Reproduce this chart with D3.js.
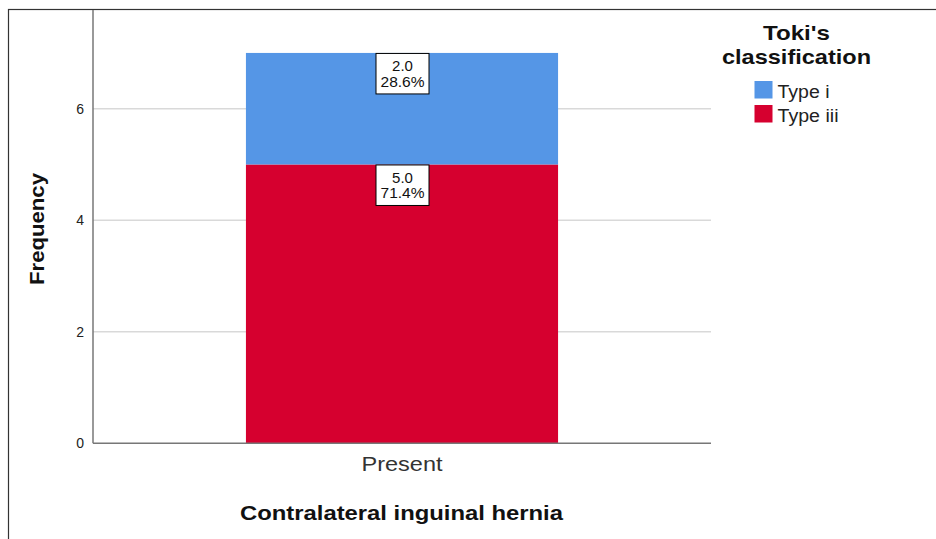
<!DOCTYPE html>
<html><head><meta charset="utf-8">
<script src="https://cdn.jsdelivr.net/npm/d3@7"></script>
<style>body{margin:0;background:#fff}svg{display:block}text{font-family:"Liberation Sans",Arial,sans-serif}</style>
</head><body>
<svg id="c" width="936" height="539"></svg>
<script>
const categories = ["Present"];
const seriesNames = ["Type iii", "Type i"];
const typeIII = [5];
const typeI = [2];
const pctIII = ["71.4%"];
const pctI = ["28.6%"];
const yTicks = [0, 2, 4, 6];
const legendNames = ["Type i", "Type iii"];
const colors = {"Type i": "#5596e6", "Type iii": "#d6002f"};

const svg = d3.select("#c");
// frame
svg.append("rect").attr("x", 8.5).attr("y", 9.5).attr("width", 960).attr("height", 600)
  .attr("fill", "none").attr("stroke", "#333").attr("stroke-width", 1.2);

const pLeft = 93, pRight = 711, pTop = 10, pBottom = 443.3;
const y = d3.scaleLinear().domain([0, 7.77]).range([pBottom, pTop]);
const x = d3.scaleBand().domain(categories).range([pLeft, pRight]).paddingInner(0).paddingOuter(0.49);

// gridlines
svg.append("g").selectAll("line").data(yTicks.filter(d => d > 0)).join("line")
  .attr("x1", pLeft).attr("x2", pRight).attr("y1", d => y(d)).attr("y2", d => y(d))
  .attr("stroke", "#d9d9d9").attr("stroke-width", 1.5);

// stacked data
const rows = categories.map((c, i) => ({cat: c, "Type iii": typeIII[i], "Type i": typeI[i]}));
const stack = d3.stack().keys(seriesNames)(rows);
svg.append("g").selectAll("g").data(stack).join("g").attr("fill", d => colors[d.key])
  .selectAll("rect").data(d => d).join("rect")
  .attr("x", d => x(d.data.cat)).attr("width", x.bandwidth())
  .attr("y", d => y(d[1])).attr("height", d => y(d[0]) - y(d[1]));

// axes
const yAxis = svg.append("g").attr("transform", `translate(${pLeft},0)`)
  .call(d3.axisLeft(y).tickValues(yTicks).tickSize(0).tickPadding(9).tickFormat(d3.format("d")));
yAxis.select(".domain").remove();
yAxis.selectAll("text").style("font-size", "14px").attr("fill", "#222");
svg.append("line").attr("x1", pLeft).attr("x2", pLeft).attr("y1", pTop).attr("y2", pBottom)
  .attr("stroke", "#777").attr("stroke-width", 1.5);
const xAxis = svg.append("g").attr("transform", `translate(0,${pBottom})`)
  .call(d3.axisBottom(x).tickSize(0).tickPadding(13));
xAxis.select(".domain").remove();
xAxis.selectAll("text").style("font-size", "21px").attr("fill", "#333")
  .attr("textLength", 81).attr("lengthAdjust", "spacingAndGlyphs");
svg.append("line").attr("x1", pLeft).attr("x2", pRight).attr("y1", pBottom).attr("y2", pBottom)
  .attr("stroke", "#777").attr("stroke-width", 1.5);

// labels
const labelData = [];
stack.forEach(s => s.forEach((d, i) => {
  const v = d[1] - d[0];
  labelData.push({cat: d.data.cat, top: d[1], v: v, p: s.key === "Type i" ? pctI[i] : pctIII[i]});
}));
const lg = svg.append("g").selectAll("g").data(labelData).join("g")
  .attr("transform", d => `translate(${x(d.cat) + x.bandwidth() / 2},${y(d.top)})`);
lg.append("rect").attr("x", -26).attr("y", 0.5).attr("width", 53).attr("height", 40.5)
  .attr("fill", "#fff").attr("stroke", "#000").attr("stroke-width", 1);
lg.append("text").attr("text-anchor", "middle").attr("x", 0.5).attr("y", 18.5).attr("font-size", 15).attr("fill", "#111")
  .text(d => d.v.toFixed(1));
lg.append("text").attr("text-anchor", "middle").attr("x", 0.5).attr("y", 34).attr("font-size", 15).attr("fill", "#111")
  .attr("textLength", 44).attr("lengthAdjust", "spacingAndGlyphs")
  .text(d => d.p);

// axis titles
svg.append("text").attr("transform", "translate(44,229) rotate(-90)").attr("text-anchor", "middle")
  .attr("font-size", 20).attr("font-weight", "bold").attr("fill", "#111")
  .attr("textLength", 112).attr("lengthAdjust", "spacingAndGlyphs").text("Frequency");
svg.append("text").attr("x", 401.5).attr("y", 520).attr("text-anchor", "middle")
  .attr("font-size", 20).attr("font-weight", "bold").attr("fill", "#111")
  .attr("textLength", 323).attr("lengthAdjust", "spacingAndGlyphs").text("Contralateral inguinal hernia");

// legend
svg.append("text").attr("x", 796.5).attr("y", 40).attr("text-anchor", "middle").attr("font-size", 21)
  .attr("font-weight", "bold").attr("fill", "#111")
  .attr("textLength", 67).attr("lengthAdjust", "spacingAndGlyphs").text("Toki's");
svg.append("text").attr("x", 796.5).attr("y", 63.5).attr("text-anchor", "middle").attr("font-size", 21)
  .attr("font-weight", "bold").attr("fill", "#111")
  .attr("textLength", 149).attr("lengthAdjust", "spacingAndGlyphs").text("classification");
const legW = {"Type i": 52, "Type iii": 61};
const leg = svg.append("g").selectAll("g").data(legendNames).join("g")
  .attr("transform", (d, i) => `translate(754.5,${81 + i * 24})`);
leg.append("rect").attr("width", 18).attr("height", 17.5).attr("fill", d => colors[d]);
leg.append("text").attr("x", 23).attr("y", 17).attr("font-size", 18).attr("fill", "#222")
  .attr("textLength", d => legW[d]).attr("lengthAdjust", "spacingAndGlyphs").text(d => d);
</script>
</body></html>
